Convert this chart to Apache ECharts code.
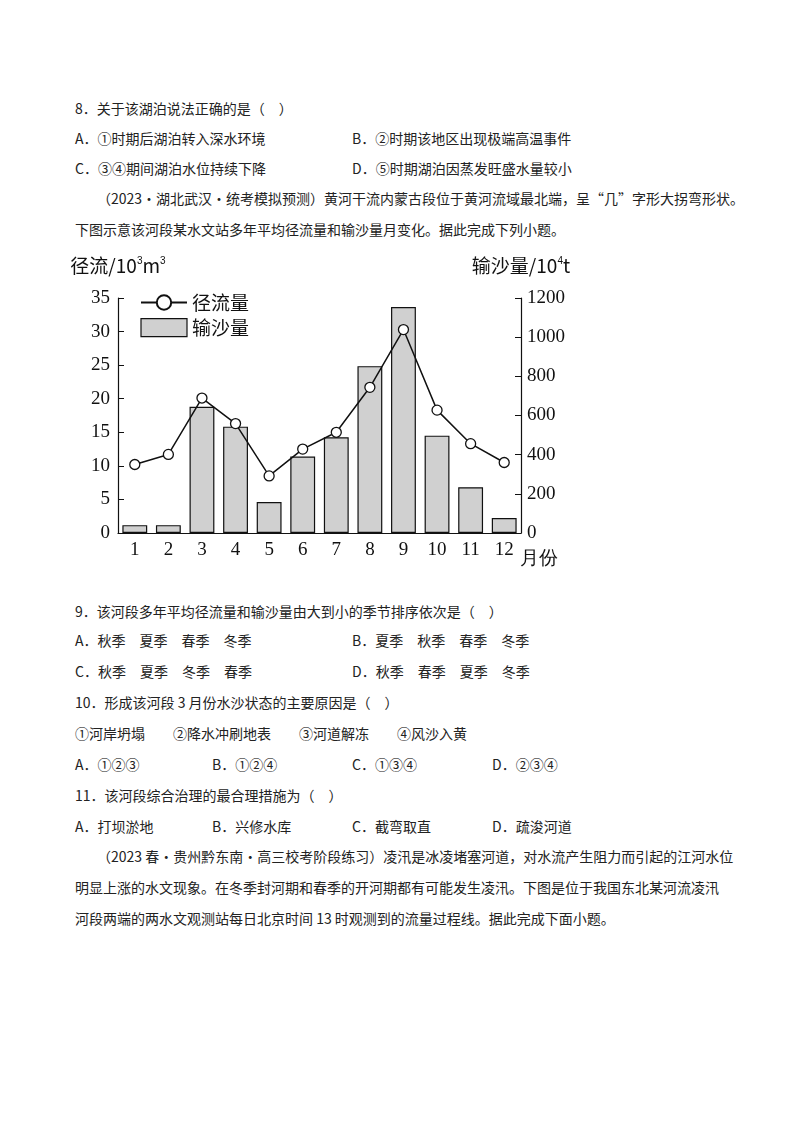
<!DOCTYPE html>
<html>
<head>
<meta charset="utf-8">
<script src="https://cdn.jsdelivr.net/npm/echarts@6/dist/echarts.min.js"></script>
<style>
  body { margin: 0; background: #fff; font-family: "Noto Sans CJK SC", serif; color: #222; }
  .t { position: absolute; font-size: 14px; white-space: nowrap; }
  #chart { position: absolute; left: 0; top: 250px; width: 800px; height: 340px; }
</style>
</head>
<body>
<div class="t" style="left:75px;top:98px">8．关于该湖泊说法正确的是（　）</div>
<div class="t" style="left:75px;top:128px">A．①时期后湖泊转入深水环境</div>
<div class="t" style="left:352px;top:128px">B．②时期该地区出现极端高温事件</div>
<div class="t" style="left:75px;top:158px">C．③④期间湖泊水位持续下降</div>
<div class="t" style="left:352px;top:158px">D．⑤时期湖泊因蒸发旺盛水量较小</div>
<div class="t" style="left:97px;top:188px">（2023·湖北武汉·统考模拟预测）黄河干流内蒙古段位于黄河流域最北端，呈“几”字形大拐弯形状。</div>
<div class="t" style="left:75px;top:219px">下图示意该河段某水文站多年平均径流量和输沙量月变化。据此完成下列小题。</div>

<div id="chart"></div>

<div class="t" style="left:75px;top:601px">9．该河段多年平均径流量和输沙量由大到小的季节排序依次是（　）</div>
<div class="t" style="left:75px;top:630px">A．秋季　夏季　春季　冬季</div>
<div class="t" style="left:352px;top:630px">B．夏季　秋季　春季　冬季</div>
<div class="t" style="left:75px;top:661px">C．秋季　夏季　冬季　春季</div>
<div class="t" style="left:352px;top:661px">D．秋季　春季　夏季　冬季</div>
<div class="t" style="left:75px;top:692px">10．形成该河段 3 月份水沙状态的主要原因是（　）</div>
<div class="t" style="left:75px;top:723px">①河岸坍塌　　②降水冲刷地表　　③河道解冻　　④风沙入黄</div>
<div class="t" style="left:75px;top:754px">A．①②③</div>
<div class="t" style="left:212px;top:754px">B．①②④</div>
<div class="t" style="left:352px;top:754px">C．①③④</div>
<div class="t" style="left:492px;top:754px">D．②③④</div>
<div class="t" style="left:75px;top:785px">11．该河段综合治理的最合理措施为（　）</div>
<div class="t" style="left:75px;top:816px">A．打坝淤地</div>
<div class="t" style="left:212px;top:816px">B．兴修水库</div>
<div class="t" style="left:352px;top:816px">C．截弯取直</div>
<div class="t" style="left:492px;top:816px">D．疏浚河道</div>
<div class="t" style="left:97px;top:846px">（2023 春·贵州黔东南·高三校考阶段练习）凌汛是冰凌堵塞河道，对水流产生阻力而引起的江河水位</div>
<div class="t" style="left:75px;top:877px">明显上涨的水文现象。在冬季封河期和春季的开河期都有可能发生凌汛。下图是位于我国东北某河流凌汛</div>
<div class="t" style="left:75px;top:908px">河段两端的两水文观测站每日北京时间 13 时观测到的流量过程线。据此完成下面小题。</div>

<script>
const months = ["1", "2", "3", "4", "5", "6", "7", "8", "9", "10", "11", "12"];
const runoff = [10.2, 11.7, 20.1, 16.3, 8.5, 12.5, 15.0, 21.7, 30.3, 18.3, 13.3, 10.5];
const sediment = [40, 40, 645, 543, 158, 390, 489, 852, 1154, 497, 234, 76];
const leftTicks = [0, 35, 5];
const rightTicks = [0, 1200, 200];

const serif = "Liberation Serif";
const chart = echarts.init(document.getElementById("chart"));
chart.setOption({
  animation: false,
  grid: { left: 118, right: 279, top: 48, bottom: 57 },
  legend: {
    orient: "vertical", left: 135, top: 38, itemGap: 6, itemWidth: 46, itemHeight: 18,
    textStyle: { fontSize: 19, color: "#111", fontFamily: "Noto Sans CJK SC" },
    data: [
      { name: "径流量" },
      { name: "输沙量", icon: "rect", itemStyle: { color: "#d0d0d0", borderColor: "#111", borderWidth: 1.2 } }
    ]
  },
  xAxis: {
    type: "category", data: months,
    axisLine: { lineStyle: { color: "#111", width: 1.2 } },
    axisTick: { inside: true, length: 6, lineStyle: { color: "#111" } },
    axisLabel: { color: "#111", fontSize: 19, fontFamily: serif, margin: 8 },
    name: "月份", nameLocation: "end", nameGap: -8,
    nameTextStyle: { fontSize: 19, color: "#111", padding: [16, 0, 0, 0], verticalAlign: "top" }
  },
  yAxis: [
    {
      type: "value", min: leftTicks[0], max: leftTicks[1], interval: leftTicks[2],
      name: "{a|径流/10}{s|3}{a|m}{s|3}", nameGap: 22,
      nameTextStyle: { rich: { a: { fontSize: 19, color: "#111", fontFamily: "Noto Sans CJK SC" }, s: { fontSize: 10, color: "#111", verticalAlign: "top", padding: [0, 0, 10, 0] } } },
      axisLine: { show: true, lineStyle: { color: "#111", width: 1.2 } },
      axisTick: { show: true, inside: true, length: 6 },
      axisLabel: { color: "#111", fontSize: 19, fontFamily: serif, margin: 8 },
      splitLine: { show: false }
    },
    {
      type: "value", min: rightTicks[0], max: rightTicks[1], interval: rightTicks[2],
      name: "{a|输沙量/10}{s|4}{a|t}", nameGap: 22,
      nameTextStyle: { rich: { a: { fontSize: 19, color: "#111", fontFamily: "Noto Sans CJK SC" }, s: { fontSize: 10, color: "#111", verticalAlign: "top", padding: [0, 0, 10, 0] } } },
      axisLine: { show: true, lineStyle: { color: "#111", width: 1.2 } },
      axisTick: { show: true, inside: true, length: 6 },
      axisLabel: { color: "#111", fontSize: 19, fontFamily: serif, margin: 6, formatter: v => String(v) },
      splitLine: { show: false }
    }
  ],
  series: [
    {
      name: "输沙量", type: "bar", yAxisIndex: 1, data: sediment, barWidth: "74%",
      itemStyle: { color: "#d0d0d0", borderColor: "#111", borderWidth: 1.2 }
    },
    {
      name: "径流量", type: "line", yAxisIndex: 0, data: runoff,
      symbol: "circle", symbolSize: 10, z: 5,
      lineStyle: { color: "#111", width: 1.5 },
      itemStyle: { color: "#fff", borderColor: "#111", borderWidth: 1.3 }
    }
  ]
});
</script>
</body>
</html>
